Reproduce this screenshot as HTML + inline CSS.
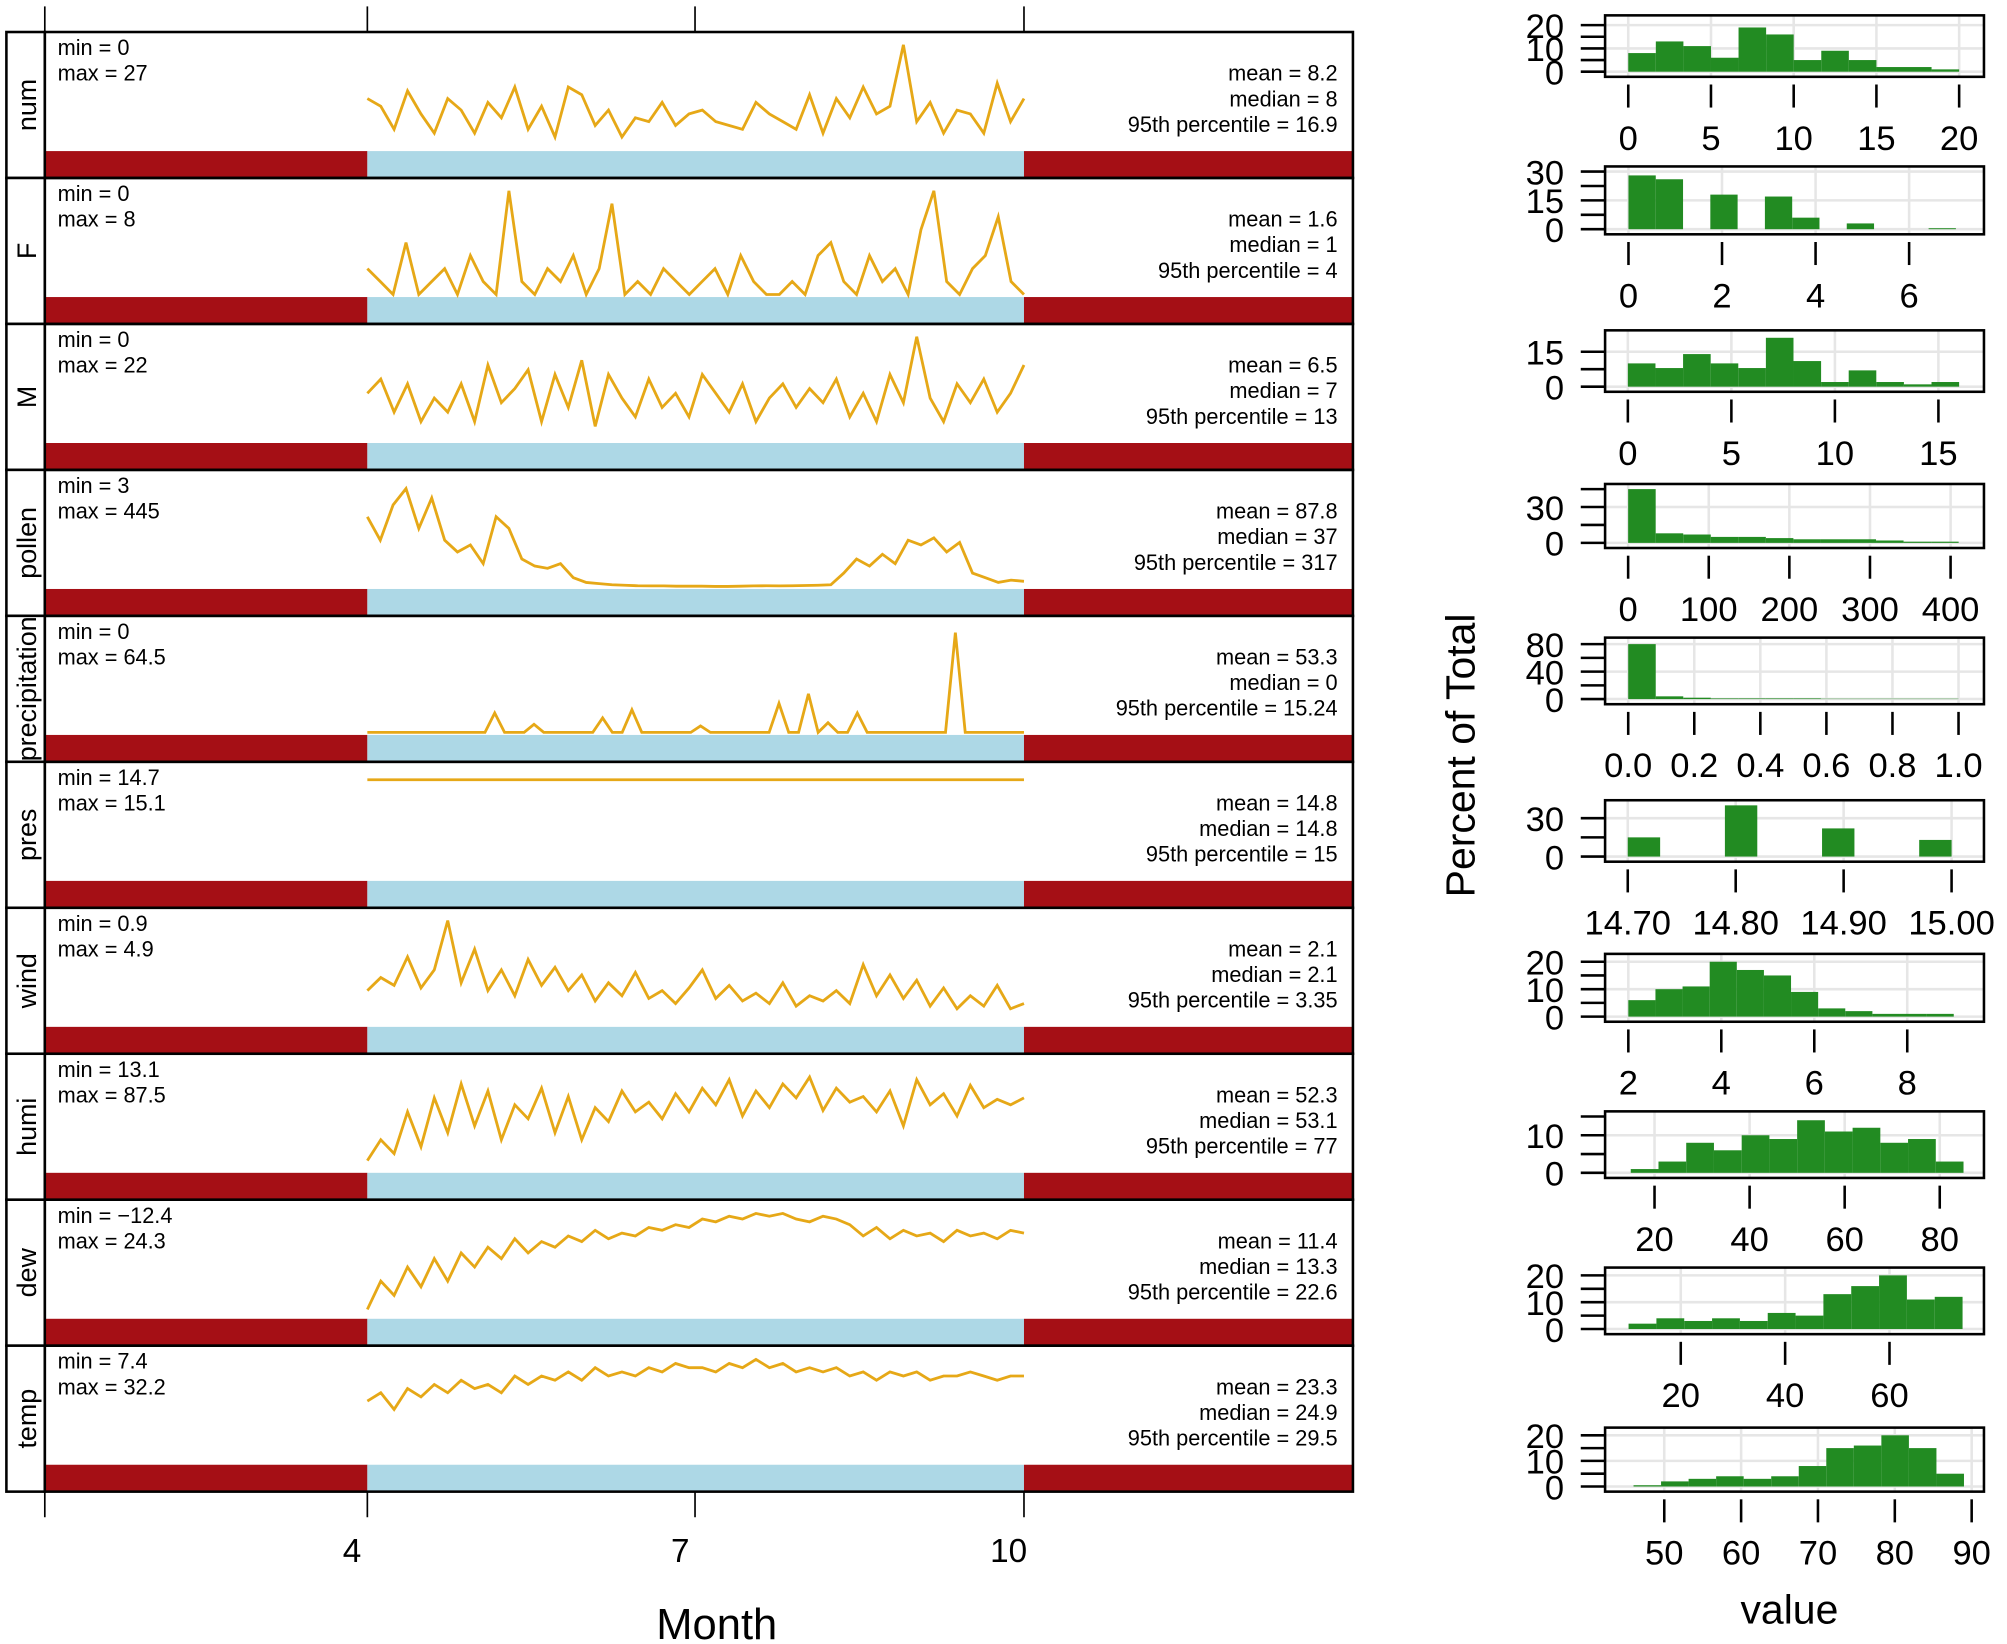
<!DOCTYPE html>
<html><head><meta charset="utf-8"><style>
html,body{margin:0;padding:0;background:#fff}
svg{display:block}
text{font-family:"Liberation Sans",sans-serif}
</style></head><body>
<svg id="c" width="2007" height="1644" viewBox="0 0 1568 1284" preserveAspectRatio="none" xmlns="http://www.w3.org/2000/svg"></svg>
<script>
const names=["num","F","M","pollen","precipitation","pres","wind","humi","dew","temp"];
const minLabels=["0","0","0","3","0","14.7","0.9","13.1","\u221212.4","7.4"];
const maxLabels=["27","8","22","445","64.5","15.1","4.9","87.5","24.3","32.2"];
const means=["8.2","1.6","6.5","87.8","53.3","14.8","2.1","52.3","11.4","23.3"];
const medians=["8","1","7","37","0","14.8","2.1","53.1","13.3","24.9"];
const p95=["16.9","4","13","317","15.24","15","3.35","77","22.6","29.5"];
const domMin=[0,0,0,3,0,14.7,0.9,13.1,-12.4,7.4];
const domMax=[27,8,22,445,64.5,15.1,4.9,87.5,24.3,32.2];
const s_num=[13,11,5,15,9,4,13,10,4,12,8,16,5,11,3,16,14,6,10,3,8,7,12,6,9,10,7,6,5,12,9,7,5,14,4,13,8,16,9,11,27,7,12,4,10,9,4,17,7,13];
const s_F=[2,1,0,4,0,1,2,0,3,1,0,8,1,0,2,1,3,0,2,7,0,1,0,2,1,0,1,2,0,3,1,0,0,1,0,3,4,1,0,3,1,2,0,5,8,1,0,2,3,6,1,0];
const s_M=[10,13,6,12,4,9,6,12,4,16,8,11,15,4,14,7,17,3,14,9,5,13,7,10,5,14,10,6,12,4,9,12,7,11,8,13,5,10,4,14,8,22,9,4,12,8,13,6,10,16];
const s_pollen=[300,200,350,420,250,380,200,150,180,100,300,250,120,90,80,100,40,20,15,10,8,6,5,5,4,4,4,3,3,4,5,6,5,6,7,8,10,60,120,90,140,100,200,180,210,150,190,60,40,20,30,25];
const s_precip=[0,0,0,0,0,0,0,0,0,0,0,0,0,12,0,0,0,5,0,0,0,0,0,0,9,0,0,14,0,0,0,0,0,0,4,0,0,0,0,0,0,0,18,0,0,24,0,6,0,0,12,0,0,0,0,0,0,0,0,0,62,0,0,0,0,0,0,0];
const s_pres=[15.08,15.08,15.08,15.08,15.08,15.08,15.08,15.08,15.08,15.08];
const s_wind=[2.2,2.7,2.4,3.5,2.3,3.0,4.9,2.5,3.8,2.2,3.0,2.0,3.4,2.4,3.1,2.2,2.8,1.8,2.5,2.0,2.9,1.9,2.2,1.7,2.3,3.0,1.9,2.4,1.8,2.1,1.7,2.5,1.6,2.0,1.8,2.2,1.7,3.2,2.0,2.8,1.9,2.6,1.6,2.3,1.5,2.0,1.6,2.4,1.5,1.7];
const s_humi=[20,35,25,55,30,65,40,75,45,70,35,60,50,72,40,66,35,58,48,70,55,62,50,68,55,72,60,78,52,70,58,75,65,80,56,72,62,66,55,70,45,78,60,68,52,74,58,64,60,65];
const s_dew=[-10,0,-5,5,-2,8,0,10,5,12,8,15,10,14,12,16,14,18,15,17,16,19,18,20,19,22,21,23,22,24,23,24,22,21,23,22,20,16,19,15,18,16,17,14,18,16,17,15,18,17];
const s_temp=[22,24,20,25,23,26,24,27,25,26,24,28,26,28,27,29,27,30,28,29,28,30,29,31,30,30,29,31,30,32,30,31,29,30,29,30,28,29,27,29,28,29,27,28,28,29,28,27,28,28];
const series=[s_num,s_F,s_M,s_pollen,s_precip,s_pres,s_wind,s_humi,s_dew,s_temp];
const monthTicks=[4,7,10];
const h_bins=[
 [0,20,[8,13,11,6,19,16,5,9,5,2,2,1]],
 [0,7,[28,26,0,18,0,17,6,0,3,0,0,0.5]],
 [0,16,[10,8,14,10,8,21,11,2,7,2,1,2]],
 [0,410,[45,8,7,5,5,4,3,3,3,2,1,1]],
 [0,1,[80,4,2,1,1,1,1,0.5,0.5,0.5,0.5,0.5]],
 [14.7,15.0,[15,0,0,40,0,0,22,0,0,13]],
 [2,9,[6,10,11,20,17,15,9,3,2,1,1,1]],
 [15,85,[1,3,8,6,10,9,14,11,12,8,9,3]],
 [10,74,[2,4,3,4,3,6,5,13,16,20,11,12]],
 [46,89,[0.5,2,3,4,3,4,8,15,16,20,15,5]]];
const h_xticks=[[0,5,10,15,20],[0,2,4,6],[0,5,10,15],[0,100,200,300,400],[0,0.2,0.4,0.6,0.8,1.0],[14.7,14.8,14.9,15.0],[2,4,6,8],[20,40,60,80],[20,40,60],[50,60,70,80,90]];
const h_xlabels=[["0","5","10","15","20"],["0","2","4","6"],["0","5","10","15"],["0","100","200","300","400"],["0.0","0.2","0.4","0.6","0.8","1.0"],["14.70","14.80","14.90","15.00"],["2","4","6","8"],["20","40","60","80"],["20","40","60"],["50","60","70","80","90"]];
const h_xdom=[[-1.4,21.5],[-0.5,7.6],[-1.1,17.2],[-28.6,441.4],[-0.07,1.077],[14.679,15.030],[1.5,9.65],[9.6,89.3],[5.5,78.1],[42.3,91.6]];
const h_yticks=[[0,10,20],[0,15,30],[0,15],[0,30],[0,40,80],[0,30],[0,10,20],[0,10],[0,10,20],[0,10,20]];
const h_ymax=[22,30,22,45,82,40,21,15,21,21];

const svg=document.getElementById('c');const NS="http://www.w3.org/2000/svg";
function el(t,a,p){const e=document.createElementNS(NS,t);for(const k in a)e.setAttribute(k,a[k]);(p||svg).appendChild(e);return e;}
function txt(x,y,s,a,p){const e=el('text',Object.assign({x:x,y:y},a),p);e.textContent=s;return e;}
const L=35,R=1057,TOP=25,PH=114;
const mx=m=>287+(m-4)*(800-287)/6;
[35,287,543,800].forEach(x=>{el('line',{x1:x,y1:5,x2:x,y2:25,stroke:'#000','stroke-width':1.3});el('line',{x1:x,y1:1165,x2:x,y2:1185,stroke:'#000','stroke-width':1.3});});
monthTicks.forEach(m=>{const t=txt(mx(m)-12,1220,String(m),{'font-size':26,'text-anchor':'middle'});

});
const mt=txt(560,1280,'Month',{'font-size':34,'text-anchor':'middle'});


names.forEach((n,i)=>{
 const y0=TOP+i*PH,y1=y0+PH;
 const g=el('g',{});
 
 
 el('rect',{x:5,y:y0,width:30,height:PH,fill:'#fff',stroke:'#000','stroke-width':2},g);
 txt(0,0,n,{'font-size':21,'text-anchor':'middle',transform:`translate(28,${y0+PH/2}) rotate(-90)`},g);
 el('rect',{x:L,y:y1-21,width:287-L,height:21,fill:'#a50f15'},g);
 el('rect',{x:287,y:y1-21,width:513,height:21,fill:'#add8e6'},g);
 el('rect',{x:800,y:y1-21,width:R-800,height:21,fill:'#a50f15'},g);
 el('rect',{x:L,y:y0,width:R-L,height:PH,fill:'none',stroke:'#000','stroke-width':2},g);
 txt(45,y0+18,'min = '+minLabels[i],{'font-size':17},g);
 txt(45,y0+38,'max = '+maxLabels[i],{'font-size':17},g);
 txt(1045,y0+38,'mean = '+means[i],{'font-size':17,'text-anchor':'end'},g);
 txt(1045,y0+58,'median = '+medians[i],{'font-size':17,'text-anchor':'end'},g);
 txt(1045,y0+78,'95th percentile = '+p95[i],{'font-size':17,'text-anchor':'end'},g);
 const s=series[i],lo=domMin[i],hi=domMax[i];
 const yb=y1-23,yt=y0+10;
 const ys=v=>yb-(v-lo)/(hi-lo)*(yb-yt);
 const pts=s.map((v,k)=>mx(4+6*k/(s.length-1)).toFixed(1)+','+ys(v).toFixed(1)).join(' ');
 const pl=el('polyline',{points:pts,fill:'none',stroke:'#e6a817','stroke-width':2.2},g);
 
 
});
const HX0=1254,HX1=1550;
const hTops=[12,130,258,378,498,625,745,868,990,1115];
const hH=[48,53,48,50,52,48,53,52,52,50];
hTops.forEach((t,i)=>{
 const b=t+hH[i];const g=el('g',{});
 
 
 const xd=h_xdom[i];const hx=v=>HX0+(v-xd[0])/(xd[1]-xd[0])*(HX1-HX0);
 const hy=v=>b-4-v/h_ymax[i]*(hH[i]-8);
 el('rect',{x:HX0,y:t,width:HX1-HX0,height:hH[i],fill:'#fff'},g);
 h_xticks[i].forEach(v=>el('line',{x1:hx(v),y1:t,x2:hx(v),y2:b,stroke:'#e6e6e6','stroke-width':2},g));
 h_yticks[i].forEach(v=>el('line',{x1:HX0,y1:hy(v),x2:HX1,y2:hy(v),stroke:'#e6e6e6','stroke-width':2},g));
 const [a,z,hs]=h_bins[i];const w=(z-a)/hs.length;
 hs.forEach((h,k)=>{const r=el('rect',{x:hx(a+k*w),y:hy(h),width:hx(a+(k+1)*w)-hx(a+k*w),height:hy(0)-hy(h),fill:'#228b22'},g);
 
 });
 el('rect',{x:HX0,y:t,width:HX1-HX0,height:hH[i],fill:'none',stroke:'#000','stroke-width':2},g);
 const yt=h_yticks[i];const step=yt.length>1?(yt[1]-yt[0])/2:5;
 for(let v=0;v<=h_ymax[i]+0.01;v+=step)el('line',{x1:1235,y1:hy(v),x2:HX0,y2:hy(v),stroke:'#000','stroke-width':2},g);
 yt.forEach(v=>txt(1222,hy(v)+10,String(v),{'font-size':27,'text-anchor':'end'},g));
 h_xticks[i].forEach((v,k)=>{el('line',{x1:hx(v),y1:b+6,x2:hx(v),y2:b+24,stroke:'#000','stroke-width':2},g);
  txt(hx(v),b+57,h_xlabels[i][k],{'font-size':27,'text-anchor':'middle'},g);});
});
const yl=txt(0,0,'Percent of Total',{'font-size':32,'text-anchor':'middle',transform:'translate(1152,590) rotate(-90)'});


const vl=txt(1398,1268,'value',{'font-size':32,'text-anchor':'middle'});


</script>
</body></html>
